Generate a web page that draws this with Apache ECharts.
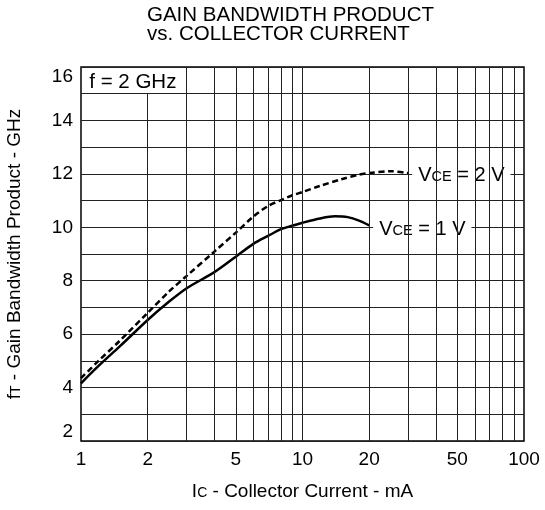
<!DOCTYPE html>
<html><head><meta charset="utf-8">
<script src="https://cdn.jsdelivr.net/npm/echarts@6/dist/echarts.min.js"></script>
<style>html,body{margin:0;padding:0;background:#fff}#c{width:545px;height:510px}</style>
</head><body><div id="c"></div>
<script>
// Collector current (mA) and gain-bandwidth product (GHz)
const vce1Current = [1, 1.2, 1.5, 2, 2.5, 3, 4, 5, 6, 7, 8, 9, 10, 12, 14, 16, 18, 20];
const vce1Ft      = [4.16, 4.81, 5.55, 6.53, 7.22, 7.72, 8.32, 8.9, 9.38, 9.68, 9.93, 10.06, 10.17, 10.33, 10.41, 10.38, 10.25, 10.07];
const vce2Current = [1, 1.2, 1.5, 2, 2.5, 3, 4, 5, 6, 7, 8, 9, 10, 12, 15, 18, 20, 25, 30];
const vce2Ft      = [4.35, 5.0, 5.76, 6.8, 7.6, 8.18, 9.09, 9.8, 10.4, 10.8, 11.02, 11.2, 11.32, 11.55, 11.8, 11.97, 12.03, 12.1, 12.03];
const xLabelValues = [1, 2, 5, 10, 20, 50, 100];
const xGridValues  = [2, 3, 4, 5, 6, 7, 8, 9, 10, 20, 30, 40, 50, 60, 70, 80, 90];
const yMin = 2, yMax = 16, yStep = 1;
const boxLabel = 'f = 2 GHz';

const FONT = '"Liberation Sans", Arial, sans-serif';
const FS = 19;
const richSub = {
  n: {fontSize: FS, fontFamily: FONT, color: '#000', lineHeight: 22, verticalAlign: 'middle'},
  s: {fontSize: 14, fontFamily: FONT, color: '#000', lineHeight: 22, verticalAlign: 'middle', padding: [3, 0, 0, 0]}
};
const richLbl = {
  n: {fontSize: 20, fontFamily: FONT, color: '#000', lineHeight: 22, verticalAlign: 'middle'},
  s: {fontSize: 14.5, fontFamily: FONT, color: '#000', lineHeight: 22, verticalAlign: 'middle', padding: [3, 0, 0, 0]}
};

const gridLineData = xGridValues.map(v => v === 2
  ? [{coord: [2, yMin]}, {coord: [2, 15]}]
  : [{coord: [v, yMin]}, {coord: [v, yMax]}]);

const chart = echarts.init(document.getElementById('c'), null, {renderer: 'canvas'});
chart.setOption({
  animation: false,
  backgroundColor: '#fff',
  textStyle: {fontFamily: FONT},
  title: {
    text: 'GAIN BANDWIDTH PRODUCT\nvs. COLLECTOR CURRENT',
    left: 141, top: 6, padding: [0, 0, 0, 6],
    textStyle: {fontSize: 20.5, fontWeight: 'normal', color: '#000', lineHeight: 19, fontFamily: FONT}
  },
  grid: {left: 81, right: 21, top: 67, bottom: 69, outerBoundsMode: 'none', containLabel: false,
    show: true, borderColor: '#000', borderWidth: 1.5, backgroundColor: 'transparent'},
  xAxis: {
    type: 'log', logBase: 10, min: 1, max: 100,
    axisLine: {show: false}, axisTick: {show: false}, splitLine: {show: false},
    axisLabel: {customValues: xLabelValues, fontSize: FS, color: '#000', margin: 9, fontFamily: FONT},
    name: '{n|I}{s|C}{n| - Collector Current - mA}',
    nameLocation: 'middle', nameGap: 40,
    nameTextStyle: {rich: richSub}
  },
  yAxis: {
    type: 'value', min: yMin, max: yMax, interval: yStep,
    axisLine: {show: false}, axisTick: {show: false},
    splitLine: {show: true, lineStyle: {color: '#222', width: 1}},
    axisLabel: {
      formatter: v => (v % 2 === 0 ? String(v) : ''),
      fontSize: FS, color: '#000', margin: 8, fontFamily: FONT,
      verticalAlignMinLabel: 'bottom', verticalAlignMaxLabel: 'top'
    },
    name: '{n|f}{s|T}{n| - Gain Bandwidth Product - GHz}',
    nameLocation: 'middle', nameGap: 55,
    nameTextStyle: {rich: richSub}
  },
  series: [
    {
      type: 'line', data: [], z: 1, silent: true,
      markLine: {
        silent: true, symbol: ['none', 'none'], animation: false,
        label: {show: false},
        lineStyle: {type: 'solid', color: '#222', width: 1},
        emphasis: {disabled: true},
        data: gridLineData
      },
      markArea: {
        silent: true,
        itemStyle: {color: 'rgba(0,0,0,0)'},
        label: {show: true, position: 'inside', offset: [-1, 2], formatter: boxLabel, fontSize: 20.5, color: '#000', fontFamily: FONT},
        data: [[{coord: [1, 15]}, {coord: [3, 16]}]]
      }
    },
    {
      name: 'VCE = 2 V', type: 'line', z: 3,
      data: vce2Current.map((x, i) => [x, vce2Ft[i]]),
      showSymbol: false, smooth: 0.3,
      lineStyle: {color: '#000', width: 2.5, type: [6, 3.5]},
      endLabel: {
        show: true, distance: 4, offset: [0, 2],
        backgroundColor: '#fff', padding: [2, 6, 2, 6],
        formatter: '{n|V}{s|CE}{n| = 2 V}', rich: richLbl
      }
    },
    {
      name: 'VCE = 1 V', type: 'line', z: 3,
      data: vce1Current.map((x, i) => [x, vce1Ft[i]]),
      showSymbol: false, smooth: 0.3,
      lineStyle: {color: '#000', width: 2.5},
      endLabel: {
        show: true, distance: 4, offset: [0, 4],
        backgroundColor: '#fff', padding: [2, 6, 2, 6],
        formatter: '{n|V}{s|CE}{n| = 1 V}', rich: richLbl
      }
    }
  ]
});
</script></body></html>
